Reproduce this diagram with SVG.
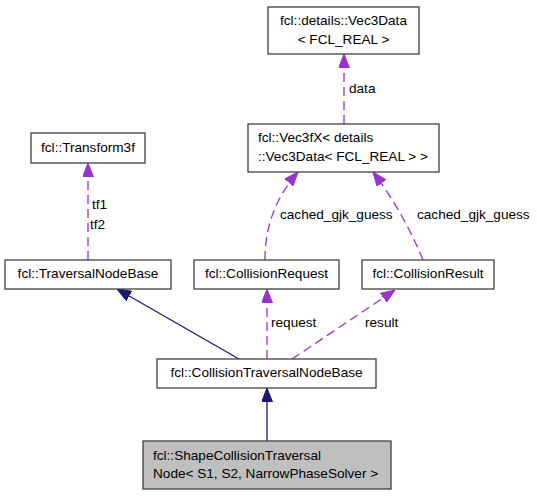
<svg xmlns="http://www.w3.org/2000/svg" width="537" height="496" viewBox="0 0 537 496">
<defs>
<style>
.box{fill:#ffffff;stroke:#404040;stroke-width:1.3}
.cur{fill:#bfbfbf;stroke:#404040;stroke-width:1.3}
.t{font-family:"Liberation Sans",Arial,sans-serif;font-size:13.6px;fill:#000}
.m{text-anchor:middle}
.dash{fill:none;stroke:#9a32cd;stroke-width:1.3;stroke-dasharray:9,5}
.solid{fill:none;stroke:#191970;stroke-width:1.3}
</style>
<marker id="ap" markerUnits="userSpaceOnUse" markerWidth="14" markerHeight="11" viewBox="0 0 14 11" refX="14" refY="5.5" orient="auto">
<path d="M0,0 L14,5.5 L0,11 z" fill="#9a32cd" stroke="#9a32cd"/>
</marker>
<marker id="an" markerUnits="userSpaceOnUse" markerWidth="14" markerHeight="11" viewBox="0 0 14 11" refX="14" refY="5.5" orient="auto">
<path d="M0,0 L14,5.5 L0,11 z" fill="#191970" stroke="#191970"/>
</marker>
</defs>
<rect width="537" height="496" fill="#ffffff"/>
<g id="connectors">
<path class="dash" d="M344,124 L344,54" marker-end="url(#ap)"/>
<text class="t" x="349" y="93">data</text>
<path class="dash" d="M88,260 L88,163" marker-end="url(#ap)"/>
<text class="t" x="92" y="209">tf1</text>
<text class="t" x="90" y="229">tf2</text>
<path class="dash" d="M265,260 C265,232 272,202 298,172" marker-end="url(#ap)"/>
<text class="t" x="280" y="219">cached_gjk_guess</text>
<path class="dash" d="M423,260 C414,238 398,205 373,172" marker-end="url(#ap)"/>
<text class="t" x="417" y="219">cached_gjk_guess</text>
<path class="solid" d="M239,359 L117,289" marker-end="url(#an)"/>
<path class="dash" d="M267,359 L267,289" marker-end="url(#ap)"/>
<text class="t" x="271" y="327">request</text>
<path class="dash" d="M292,359 L395,290" marker-end="url(#ap)"/>
<text class="t" x="365" y="327">result</text>
<path class="solid" d="M267,441 L267,388" marker-end="url(#an)"/>
</g>
<g id="vec3data">
<rect class="box" x="268" y="7" width="151" height="47"/>
<text class="t m" x="343.5" y="25">fcl::details::Vec3Data</text>
<text class="t m" x="343.5" y="44">&lt; FCL_REAL &gt;</text>
</g>
<g id="vec3fx">
<rect class="box" x="248" y="124" width="191" height="48"/>
<text class="t" x="258" y="142">fcl::Vec3fX&lt; details</text>
<text class="t" x="258" y="161">::Vec3Data&lt; FCL_REAL &gt; &gt;</text>
</g>
<g id="transform3f">
<rect class="box" x="31" y="133" width="114" height="30"/>
<text class="t m" x="88" y="152">fcl::Transform3f</text>
</g>
<g id="traversalnodebase">
<rect class="box" x="5" y="260" width="166" height="29"/>
<text class="t m" x="88" y="278">fcl::TraversalNodeBase</text>
</g>
<g id="collisionrequest">
<rect class="box" x="194" y="260" width="145" height="29"/>
<text class="t m" x="266.5" y="278">fcl::CollisionRequest</text>
</g>
<g id="collisionresult">
<rect class="box" x="362" y="260" width="132" height="29"/>
<text class="t m" x="428" y="278">fcl::CollisionResult</text>
</g>
<g id="collisiontraversalnodebase">
<rect class="box" x="157" y="359" width="219" height="29"/>
<text class="t m" x="266.5" y="377">fcl::CollisionTraversalNodeBase</text>
</g>
<g id="shapecollisiontraversalnode">
<rect class="cur" x="143" y="441" width="248" height="48"/>
<text class="t" x="153" y="460">fcl::ShapeCollisionTraversal</text>
<text class="t" x="153" y="478">Node&lt; S1, S2, NarrowPhaseSolver &gt;</text>
</g>
</svg>
